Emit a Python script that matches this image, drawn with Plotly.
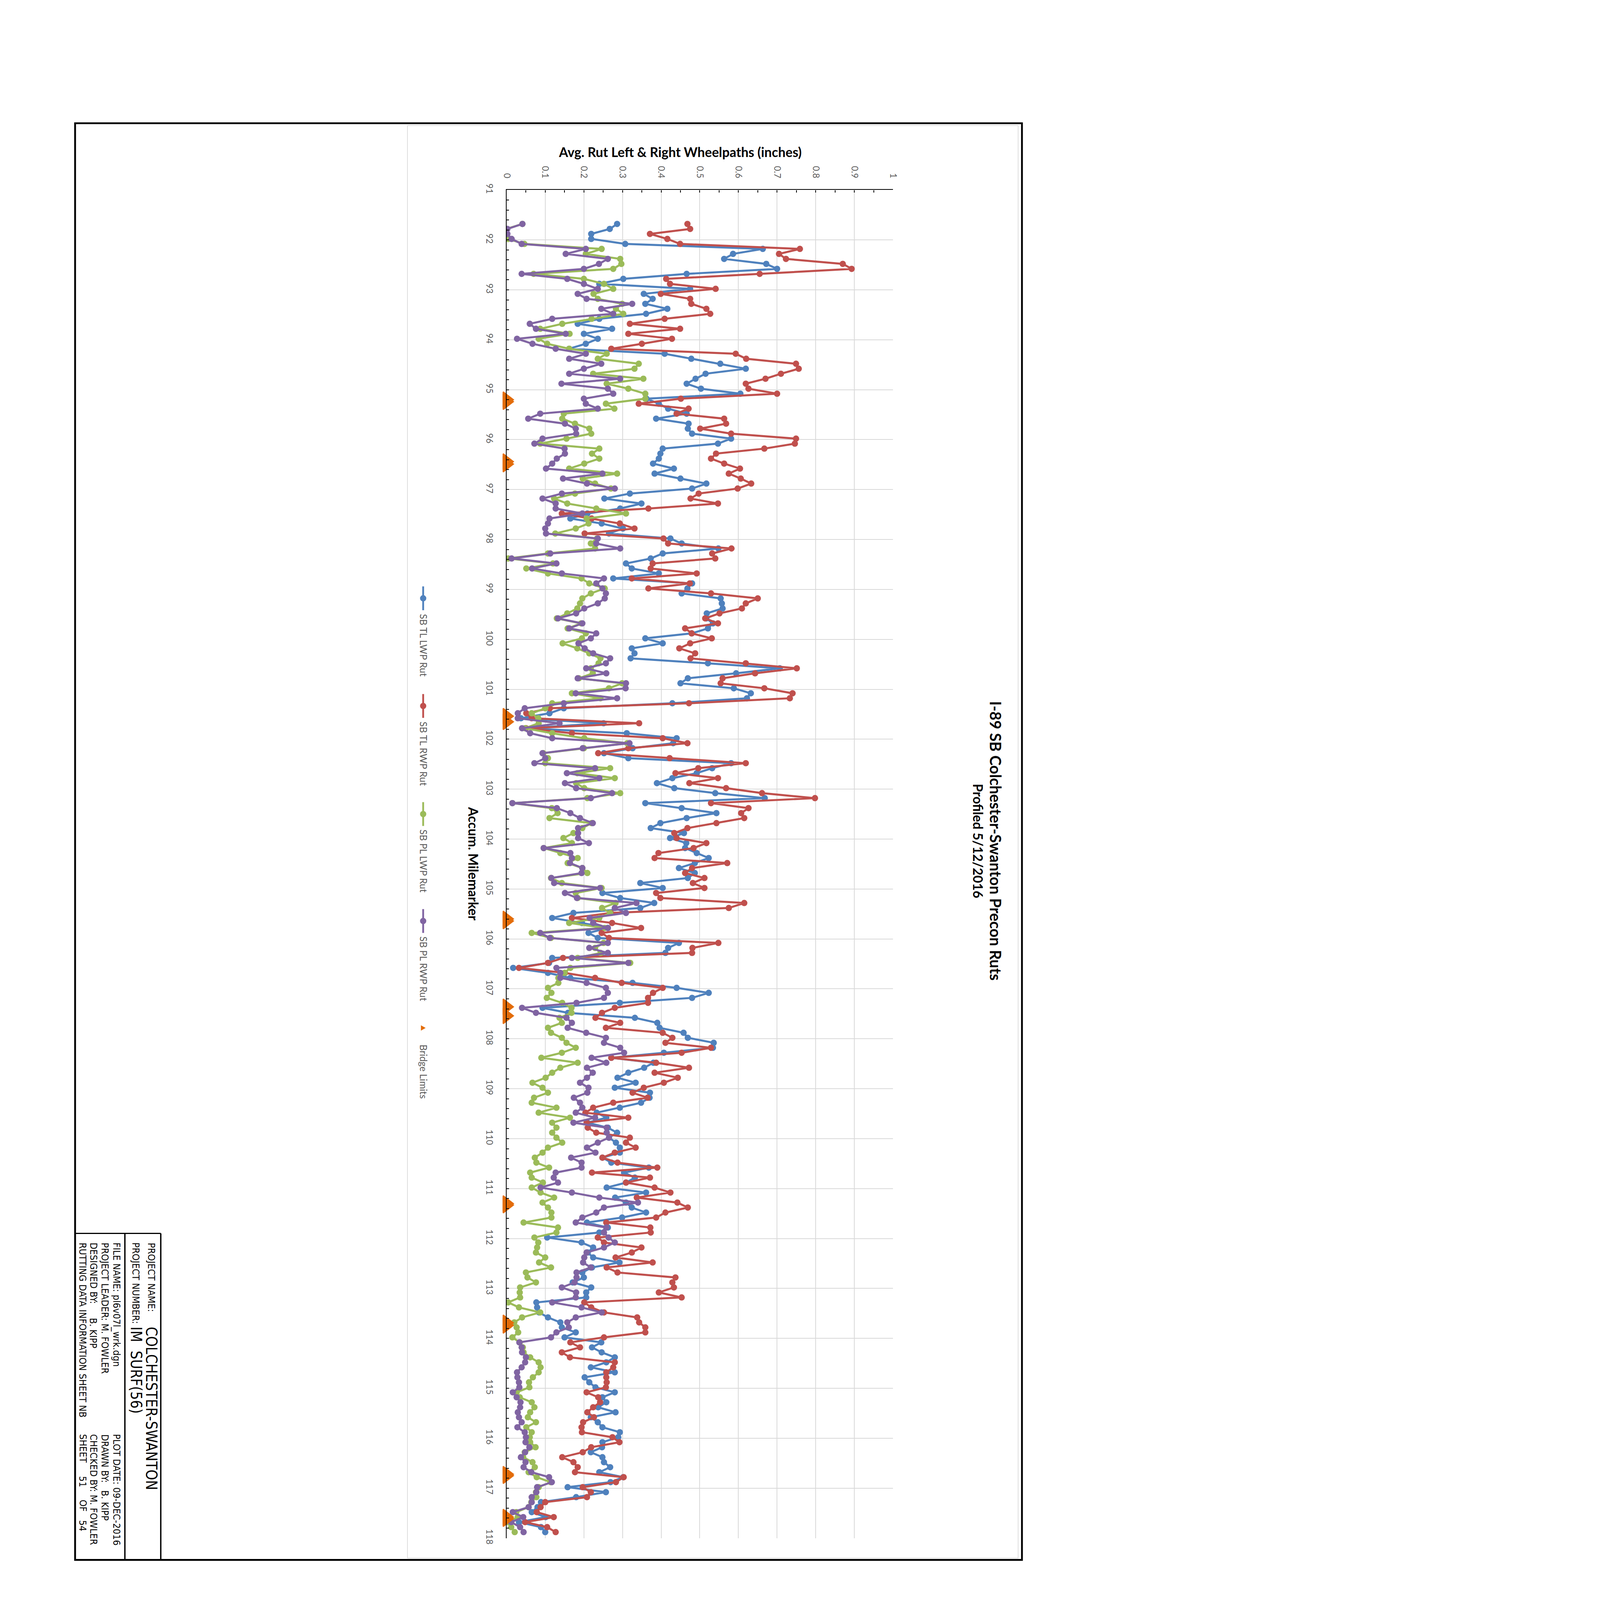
import plotly.graph_objects as go

# the page is photographed in a square of about 4096 px, so the whole 4600 x 7000
# sheet is drawn at scale S; positions below are given on the 4600 x 7000 sheet
S = 0.58
W, H = 4600, 7000

def px(x):
    return x / W

def py(y):
    return 1 - y / H

# accumulated milemarker of each reading
milemarker = [
    91.68, 91.78, 91.88, 91.98,
    92.08, 92.18, 92.28, 92.38, 92.48, 92.58, 92.68, 92.78, 92.88, 92.98,
    93.08, 93.18, 93.28, 93.38, 93.48, 93.58, 93.68, 93.78, 93.88, 93.98,
    94.08, 94.18, 94.28, 94.38, 94.48, 94.58, 94.68, 94.78, 94.88, 94.98,
    95.08, 95.18, 95.28, 95.38, 95.48, 95.58, 95.68, 95.78, 95.88, 95.98,
    96.08, 96.18, 96.28, 96.38, 96.48, 96.58, 96.68, 96.78, 96.88, 96.98,
    97.08, 97.18, 97.28, 97.38, 97.48, 97.58, 97.68, 97.78, 97.88, 97.98,
    98.08, 98.18, 98.28, 98.38, 98.48, 98.58, 98.68, 98.78, 98.88, 98.98,
    99.08, 99.18, 99.28, 99.38, 99.48, 99.58, 99.68, 99.78, 99.88, 99.98,
    100.08, 100.18, 100.28, 100.38, 100.48, 100.58, 100.68, 100.78, 100.88, 100.98,
    101.08, 101.18, 101.28, 101.38, 101.48, 101.58, 101.68, 101.78, 101.88, 101.98,
    102.08, 102.18, 102.28, 102.38, 102.48, 102.58, 102.68, 102.78, 102.88, 102.98,
    103.08, 103.18, 103.28, 103.38, 103.48, 103.58, 103.68, 103.78, 103.88, 103.98,
    104.08, 104.18, 104.28, 104.38, 104.48, 104.58, 104.68, 104.78, 104.88, 104.98,
    105.08, 105.18, 105.28, 105.38, 105.48, 105.58, 105.68, 105.78, 105.88, 105.98,
    106.08, 106.18, 106.28, 106.38, 106.48, 106.58, 106.68, 106.78, 106.88, 106.98,
    107.08, 107.18, 107.28, 107.38, 107.48, 107.58, 107.68, 107.78, 107.88, 107.98,
    108.08, 108.18, 108.28, 108.38, 108.48, 108.58, 108.68, 108.78, 108.88, 108.98,
    109.08, 109.18, 109.28, 109.38, 109.48, 109.58, 109.68, 109.78, 109.88, 109.98,
    110.08, 110.18, 110.28, 110.38, 110.48, 110.58, 110.68, 110.78, 110.88, 110.98,
    111.08, 111.18, 111.28, 111.38, 111.48, 111.58, 111.68, 111.78, 111.88, 111.98,
    112.08, 112.18, 112.28, 112.38, 112.48, 112.58, 112.68, 112.78, 112.88, 112.98,
    113.08, 113.18, 113.28, 113.38, 113.48, 113.58, 113.68, 113.78, 113.88, 113.98,
    114.08, 114.18, 114.28, 114.38, 114.48, 114.58, 114.68, 114.78, 114.88, 114.98,
    115.08, 115.18, 115.28, 115.38, 115.48, 115.58, 115.68, 115.78, 115.88, 115.98,
    116.08, 116.18, 116.28, 116.38, 116.48, 116.58, 116.68, 116.78, 116.88, 116.98,
    117.08, 117.18, 117.28, 117.38, 117.48, 117.58, 117.68, 117.78, 117.88,
]

tl_lwp = [
    0.286, 0.267, 0.219, 0.219,
    0.307, 0.663, 0.586, 0.563, 0.672, 0.700, 0.466, 0.302, 0.240, 0.475,
    0.355, 0.378, 0.359, 0.416, 0.361, 0.240, 0.184, 0.273, 0.200, 0.236,
    0.205, 0.162, 0.409, 0.478, 0.553, 0.619, 0.515, 0.489, 0.466, 0.503,
    0.605, 0.362, 0.394, 0.418, 0.466, 0.387, 0.471, 0.469, 0.480, 0.581,
    0.547, 0.404, 0.398, 0.394, 0.379, 0.433, 0.383, 0.450, 0.517, 0.480,
    0.319, 0.253, 0.349, 0.294, 0.209, 0.165, 0.246, 0.301, 0.265, 0.424,
    0.453, 0.548, 0.404, 0.373, 0.309, 0.324, 0.394, 0.276, 0.480, 0.468,
    0.453, 0.554, 0.557, 0.559, 0.518, 0.517, 0.534, 0.521, 0.479, 0.359,
    0.404, 0.324, 0.331, 0.321, 0.521, 0.707, 0.594, 0.469, 0.450, 0.588,
    0.632, 0.622, 0.429, 0.148, 0.111, 0.037, 0.251, 0.050, 0.311, 0.440,
    0.431, 0.326, 0.252, 0.315, 0.581, 0.532, 0.492, 0.429, 0.389, 0.434,
    0.540, 0.668, 0.359, 0.453, 0.543, 0.466, 0.398, 0.373, 0.459, 0.423,
    0.465, 0.462, 0.492, 0.523, 0.487, 0.446, 0.487, 0.469, 0.346, 0.404,
    0.248, 0.294, 0.382, 0.346, 0.173, 0.118, 0.195, 0.262, 0.212, 0.236,
    0.446, 0.418, 0.411, 0.118, 0.110, 0.017, 0.107, 0.165, 0.326, 0.440,
    0.523, 0.480, 0.293, 0.093, 0.159, 0.332, 0.390, 0.396, 0.458, 0.469,
    0.536, 0.534, 0.407, 0.271, 0.380, 0.356, 0.315, 0.287, 0.334, 0.280,
    0.371, 0.370, 0.348, 0.293, 0.233, 0.258, 0.209, 0.262, 0.286, 0.265,
    0.283, 0.293, 0.293, 0.248, 0.271, 0.368, 0.304, 0.332, 0.309, 0.259,
    0.361, 0.281, 0.309, 0.324, 0.361, 0.299, 0.208, 0.262, 0.240, 0.105,
    0.194, 0.224, 0.210, 0.224, 0.292, 0.221, 0.196, 0.200, 0.171, 0.219,
    0.206, 0.206, 0.077, 0.079, 0.084, 0.107, 0.139, 0.143, 0.179, 0.150,
    0.245, 0.221, 0.246, 0.280, 0.258, 0.218, 0.280, 0.202, 0.214, 0.230,
    0.280, 0.248, 0.258, 0.237, 0.282, 0.218, 0.236, 0.248, 0.293, 0.289,
    0.248, 0.247, 0.218, 0.248, 0.252, 0.268, 0.240, 0.302, 0.269, 0.158,
    0.257, 0.180, 0.089, 0.080, 0.065, 0.101, 0.032, 0.089, 0.100,
]

tl_rwp = [
    0.468, 0.475, 0.371, 0.416,
    0.449, 0.759, 0.705, 0.723, 0.870, 0.893, 0.655, 0.413, 0.423, 0.541,
    0.399, 0.475, 0.478, 0.517, 0.527, 0.409, 0.319, 0.449, 0.315, 0.428,
    0.350, 0.271, 0.593, 0.620, 0.749, 0.756, 0.710, 0.670, 0.619, 0.626,
    0.700, 0.451, 0.342, 0.471, 0.440, 0.563, 0.568, 0.501, 0.581, 0.749,
    0.746, 0.667, 0.542, 0.529, 0.563, 0.604, 0.575, 0.606, 0.633, 0.598,
    0.497, 0.476, 0.547, 0.367, 0.143, 0.220, 0.293, 0.331, 0.202, 0.406,
    0.418, 0.582, 0.532, 0.540, 0.378, 0.373, 0.492, 0.324, 0.474, 0.367,
    0.529, 0.650, 0.619, 0.609, 0.551, 0.514, 0.547, 0.462, 0.479, 0.531,
    0.475, 0.447, 0.488, 0.476, 0.619, 0.751, 0.643, 0.559, 0.554, 0.667,
    0.740, 0.733, 0.472, 0.112, 0.051, 0.065, 0.343, 0.050, 0.169, 0.404,
    0.468, 0.315, 0.237, 0.422, 0.619, 0.496, 0.437, 0.547, 0.473, 0.568,
    0.661, 0.798, 0.529, 0.626, 0.607, 0.615, 0.543, 0.468, 0.434, 0.440,
    0.517, 0.484, 0.393, 0.383, 0.571, 0.480, 0.462, 0.512, 0.482, 0.512,
    0.387, 0.398, 0.615, 0.575, 0.270, 0.169, 0.273, 0.348, 0.246, 0.265,
    0.548, 0.481, 0.480, 0.146, 0.107, 0.032, 0.151, 0.229, 0.298, 0.404,
    0.379, 0.366, 0.366, 0.280, 0.247, 0.230, 0.294, 0.257, 0.404, 0.429,
    0.411, 0.529, 0.453, 0.271, 0.387, 0.472, 0.383, 0.443, 0.407, 0.355,
    0.326, 0.365, 0.276, 0.224, 0.204, 0.315, 0.207, 0.210, 0.232, 0.319,
    0.309, 0.334, 0.280, 0.248, 0.287, 0.390, 0.221, 0.371, 0.309, 0.383,
    0.424, 0.337, 0.442, 0.469, 0.411, 0.387, 0.258, 0.372, 0.373, 0.236,
    0.252, 0.349, 0.324, 0.282, 0.378, 0.259, 0.287, 0.437, 0.429, 0.433,
    0.394, 0.453, 0.201, 0.219, 0.252, 0.338, 0.343, 0.359, 0.359, 0.252,
    0.165, 0.190, 0.143, 0.164, 0.280, 0.276, 0.258, 0.258, 0.259, 0.257,
    0.207, 0.237, 0.242, 0.224, 0.209, 0.226, 0.198, 0.194, 0.195, 0.274,
    0.292, 0.219, 0.197, 0.144, 0.173, 0.184, 0.177, 0.303, 0.283, 0.197,
    0.218, 0.208, 0.100, 0.088, 0.078, 0.122, 0.048, 0.105, 0.127,
]

pl_lwp = [
    0.041, 0.000, 0.000, 0.004,
    0.046, 0.246, 0.205, 0.294, 0.297, 0.276, 0.070, 0.200, 0.252, 0.276,
    0.225, 0.236, 0.299, 0.283, 0.302, 0.220, 0.144, 0.087, 0.163, 0.083,
    0.105, 0.162, 0.259, 0.236, 0.342, 0.331, 0.224, 0.354, 0.259, 0.315,
    0.359, 0.359, 0.257, 0.279, 0.148, 0.144, 0.177, 0.214, 0.219, 0.155,
    0.087, 0.240, 0.221, 0.240, 0.201, 0.162, 0.286, 0.197, 0.229, 0.270,
    0.177, 0.123, 0.157, 0.232, 0.309, 0.207, 0.212, 0.179, 0.126, 0.234,
    0.218, 0.229, 0.107, 0.004, 0.120, 0.051, 0.107, 0.194, 0.214, 0.254,
    0.218, 0.196, 0.190, 0.183, 0.157, 0.130, 0.193, 0.158, 0.205, 0.195,
    0.145, 0.183, 0.214, 0.243, 0.238, 0.218, 0.223, 0.187, 0.299, 0.265,
    0.169, 0.243, 0.118, 0.100, 0.065, 0.082, 0.083, 0.048, 0.118, 0.201,
    0.312, 0.200, 0.095, 0.107, 0.100, 0.268, 0.183, 0.280, 0.180, 0.201,
    0.294, 0.209, 0.015, 0.117, 0.132, 0.111, 0.220, 0.196, 0.173, 0.147,
    0.169, 0.096, 0.139, 0.184, 0.158, 0.196, 0.209, 0.115, 0.143, 0.246,
    0.179, 0.184, 0.282, 0.247, 0.268, 0.240, 0.162, 0.254, 0.065, 0.115,
    0.251, 0.229, 0.243, 0.184, 0.320, 0.165, 0.150, 0.134, 0.134, 0.107,
    0.116, 0.104, 0.144, 0.168, 0.168, 0.137, 0.143, 0.107, 0.115, 0.143,
    0.155, 0.179, 0.143, 0.090, 0.184, 0.139, 0.118, 0.101, 0.067, 0.093,
    0.107, 0.071, 0.065, 0.129, 0.083, 0.164, 0.118, 0.129, 0.118, 0.129,
    0.144, 0.107, 0.093, 0.073, 0.077, 0.110, 0.061, 0.065, 0.094, 0.065,
    0.088, 0.123, 0.093, 0.107, 0.116, 0.116, 0.044, 0.133, 0.129, 0.072,
    0.082, 0.079, 0.076, 0.100, 0.084, 0.115, 0.050, 0.054, 0.076, 0.035,
    0.034, 0.035, 0.004, 0.032, 0.087, 0.040, 0.020, 0.026, 0.030, 0.015,
    0.034, 0.042, 0.044, 0.061, 0.083, 0.088, 0.083, 0.068, 0.058, 0.059,
    0.026, 0.034, 0.065, 0.072, 0.061, 0.055, 0.076, 0.051, 0.065, 0.060,
    0.061, 0.075, 0.047, 0.043, 0.067, 0.073, 0.057, 0.078, 0.114, 0.083,
    0.076, 0.077, 0.064, 0.057, 0.025, 0.029, 0.004, 0.012, 0.021,
]

pl_rwp = [
    0.041, 0.002, 0.002, 0.013,
    0.039, 0.205, 0.153, 0.262, 0.239, 0.200, 0.039, 0.157, 0.200, 0.236,
    0.184, 0.207, 0.325, 0.245, 0.276, 0.118, 0.060, 0.076, 0.153, 0.027,
    0.067, 0.127, 0.205, 0.162, 0.245, 0.200, 0.162, 0.294, 0.142, 0.262,
    0.276, 0.200, 0.205, 0.236, 0.087, 0.056, 0.151, 0.179, 0.180, 0.093,
    0.072, 0.150, 0.151, 0.130, 0.118, 0.102, 0.248, 0.146, 0.208, 0.280,
    0.143, 0.093, 0.127, 0.127, 0.196, 0.111, 0.107, 0.100, 0.102, 0.236,
    0.232, 0.294, 0.113, 0.013, 0.129, 0.066, 0.143, 0.252, 0.232, 0.248,
    0.257, 0.254, 0.236, 0.201, 0.180, 0.133, 0.196, 0.162, 0.232, 0.218,
    0.186, 0.202, 0.224, 0.268, 0.257, 0.206, 0.258, 0.184, 0.309, 0.308,
    0.179, 0.286, 0.148, 0.047, 0.029, 0.029, 0.137, 0.040, 0.061, 0.118,
    0.318, 0.197, 0.093, 0.100, 0.072, 0.229, 0.156, 0.240, 0.151, 0.180,
    0.273, 0.218, 0.015, 0.130, 0.165, 0.190, 0.223, 0.185, 0.185, 0.185,
    0.213, 0.096, 0.165, 0.169, 0.164, 0.196, 0.194, 0.116, 0.123, 0.242,
    0.151, 0.182, 0.336, 0.280, 0.309, 0.215, 0.224, 0.262, 0.087, 0.112,
    0.262, 0.214, 0.262, 0.169, 0.315, 0.129, 0.139, 0.139, 0.207, 0.257,
    0.262, 0.252, 0.181, 0.040, 0.076, 0.155, 0.169, 0.158, 0.206, 0.257,
    0.252, 0.294, 0.304, 0.220, 0.258, 0.208, 0.223, 0.208, 0.190, 0.212,
    0.209, 0.174, 0.190, 0.196, 0.179, 0.229, 0.173, 0.259, 0.259, 0.265,
    0.236, 0.208, 0.230, 0.167, 0.194, 0.194, 0.127, 0.122, 0.133, 0.088,
    0.169, 0.240, 0.340, 0.252, 0.232, 0.196, 0.179, 0.258, 0.252, 0.264,
    0.280, 0.252, 0.207, 0.201, 0.198, 0.218, 0.181, 0.181, 0.176, 0.143,
    0.180, 0.179, 0.118, 0.194, 0.246, 0.179, 0.157, 0.161, 0.129, 0.115,
    0.033, 0.039, 0.040, 0.050, 0.048, 0.039, 0.027, 0.028, 0.032, 0.033,
    0.016, 0.026, 0.036, 0.035, 0.029, 0.032, 0.039, 0.028, 0.047, 0.050,
    0.049, 0.059, 0.048, 0.037, 0.049, 0.044, 0.064, 0.110, 0.117, 0.079,
    0.077, 0.065, 0.065, 0.057, 0.016, 0.043, 0.012, 0.035, 0.044,
]

# bridge begin / end milemarkers (plotted at rut 0)
bridge_mm = [95.20, 95.24, 96.44, 96.49, 101.54, 101.65, 105.60, 105.64,
             107.36, 107.54, 111.30, 111.33, 113.69, 113.74, 116.72, 116.75,
             117.58, 117.61]
bridge_rut = [0] * len(bridge_mm)

series_names = ["SB TL LWP Rut", "SB TL RWP Rut", "SB PL LWP Rut", "SB PL RWP Rut"]
series_colors = ["#4F81BD", "#C0504D", "#9BBB59", "#8064A2"]
series_values = [tl_lwp, tl_rwp, pl_lwp, pl_rwp]
bridge_color = "#E36C09"

for v in series_values:
    assert len(v) == len(milemarker)

fig = go.Figure()

for name, col, vals in zip(series_names, series_colors, series_values):
    fig.add_trace(go.Scatter(
        x=vals, y=milemarker, name=name, mode="lines+markers",
        line=dict(color=col, width=9 * S),
        marker=dict(color=col, size=28 * S),
        showlegend=False,
    ))

fig.add_trace(go.Scatter(
    x=bridge_rut, y=bridge_mm, name="Bridge Limits", mode="markers",
    marker=dict(symbol="triangle-right", color=bridge_color, size=60 * S,
                line=dict(color=bridge_color, width=5 * S)),
    cliponaxis=False, showlegend=False,
))

tick_font = dict(family="Lato, Open Sans, sans-serif", size=39 * S, color="#595959")

fig.update_xaxes(
    range=[0, 1], domain=[px(2224), px(3947)], side="top",
    tickmode="array", tickvals=[i / 10 for i in range(11)],
    ticktext=["0", "0.1", "0.2", "0.3", "0.4", "0.5", "0.6", "0.7", "0.8", "0.9", "1"],
    tickangle=90, tickfont=tick_font, ticklabelstandoff=round(34 * S),
    ticks="inside", ticklen=round(10 * S), tickwidth=3 * S, tickcolor="black",
    minor=dict(dtick=0.05, ticks="inside", ticklen=round(10 * S), tickwidth=3 * S,
               tickcolor="black", showgrid=False),
    showgrid=True, gridcolor="#D9D9D9", gridwidth=3 * S,
    showline=True, linecolor="black", linewidth=4 * S,
    zeroline=False, fixedrange=True,
)

fig.update_yaxes(
    range=[118, 91], domain=[py(6801), py(802)],
    tickmode="linear", tick0=91, dtick=1,
    tickangle=90, tickfont=tick_font, ticklabelstandoff=round(40 * S),
    ticks="inside", ticklen=round(10 * S), tickwidth=3 * S, tickcolor="black",
    minor=dict(dtick=0.2, ticks="inside", ticklen=round(10 * S), tickwidth=3 * S,
               tickcolor="black", showgrid=False),
    showgrid=True, gridcolor="#D9D9D9", gridwidth=3 * S,
    showline=True, linecolor="black", linewidth=4 * S,
    zeroline=False, fixedrange=True,
)

lato = "Lato, Open Sans, sans-serif"
ann = []


def text(t, x, y, size, family=lato, color="black", angle=90, xa="center", ya="middle"):
    ann.append(dict(text=t, x=px(x), y=py(y), xref="paper", yref="paper",
                    showarrow=False, textangle=angle, xanchor=xa, yanchor=ya,
                    font=dict(family=family, size=size * S, color=color)))


# titles
text("<b>I-89 SB Colchester-Swanton Precon Ruts</b>", 4406, 3698, 68)
text("<b>Profiled 5/12/2016</b>", 4325, 3698, 58)
text("<b>Avg. Rut Left & Right Wheelpaths (inches)</b>", 2997, 632, 58, angle=0)
text("<b>Accum. Milemarker</b>", 2076, 3800, 58)

# legend drawn by hand because it is turned with the chart
shapes = []
leg_y = [2619, 3098, 3579, 4055]
for yc, name, col in zip(leg_y, series_names, series_colors):
    shapes.append(dict(type="line", xref="paper", yref="paper",
                       x0=px(1852), x1=px(1852), y0=py(yc - 53), y1=py(yc + 53),
                       line=dict(color=col, width=8 * S)))
    shapes.append(dict(type="circle", xref="paper", yref="paper",
                       x0=px(1838), x1=px(1866), y0=py(yc + 14), y1=py(yc - 14),
                       fillcolor=col, line=dict(width=0)))
    text(name, 1854, yc + 66, 42, color="#595959", ya="top")

shapes.append(dict(type="path", xref="paper", yref="paper",
                   path=f"M {px(1842)} {py(4519)} L {px(1863)} {py(4531)} L {px(1842)} {py(4543)} Z",
                   fillcolor=bridge_color, line=dict(width=0)))
text("Bridge Limits", 1854, 4601, 42, color="#595959", ya="top")

# chart area border
shapes.append(dict(type="rect", xref="paper", yref="paper",
                   x0=px(1782), x1=px(4505), y0=py(6890), y1=py(515),
                   line=dict(color="#D9D9D9", width=3 * S)))

# sheet frame and title block
shapes.append(dict(type="rect", xref="paper", yref="paper",
                   x0=px(300), x1=px(4522), y0=py(6898), y1=py(505),
                   line=dict(color="black", width=8 * S)))
for xl in (522, 682):
    shapes.append(dict(type="line", xref="paper", yref="paper",
                       x0=px(xl), x1=px(xl), y0=py(5445), y1=py(6898),
                       line=dict(color="black", width=6 * S)))
shapes.append(dict(type="line", xref="paper", yref="paper",
                   x0=px(300), x1=px(682), y0=py(5445), y1=py(5445),
                   line=dict(color="black", width=5 * S)))

cad = "Liberation Sans Narrow, DejaVu Sans Condensed, sans-serif"
small = [
    ("PROJECT NAME:", 641, 5482),
    ("PROJECT NUMBER:", 571, 5482),
    ("FILE NAME: pl6v07l_wrk.dgn", 484, 5482),
    ("PROJECT LEADER: M. FOWLER", 433, 5482),
    ("DESIGNED BY:", 382, 5482),
    ("B. KIPP", 382, 5818),
    ("RUTTING DATA INFORMATION SHEET NB", 334, 5482),
    ("PLOT DATE: 09-DEC-2016", 484, 6335),
    ("DRAWN BY:", 433, 6335),
    ("B. KIPP", 433, 6584),
    ("CHECKED BY: M. FOWLER", 382, 6335),
    ("SHEET", 334, 6335),
    ("51", 334, 6522),
    ("OF", 334, 6627),
    ("54", 334, 6718),
]
for t, x, y in small:
    text(t, x, y, 43, family=cad, ya="top")
text("COLCHESTER-SWANTON", 641, 5857, 66, family=cad, ya="top")
text("IM\u00a0\u00a0SURF(56)", 571, 5857, 66, family=cad, ya="top")

fig.update_layout(
    width=round(W * S), height=round(H * S),
    margin=dict(l=0, r=0, t=0, b=0),
    paper_bgcolor="white", plot_bgcolor="white",
    showlegend=False,
    annotations=ann, shapes=shapes,
)

fig.write_html("out.html")
